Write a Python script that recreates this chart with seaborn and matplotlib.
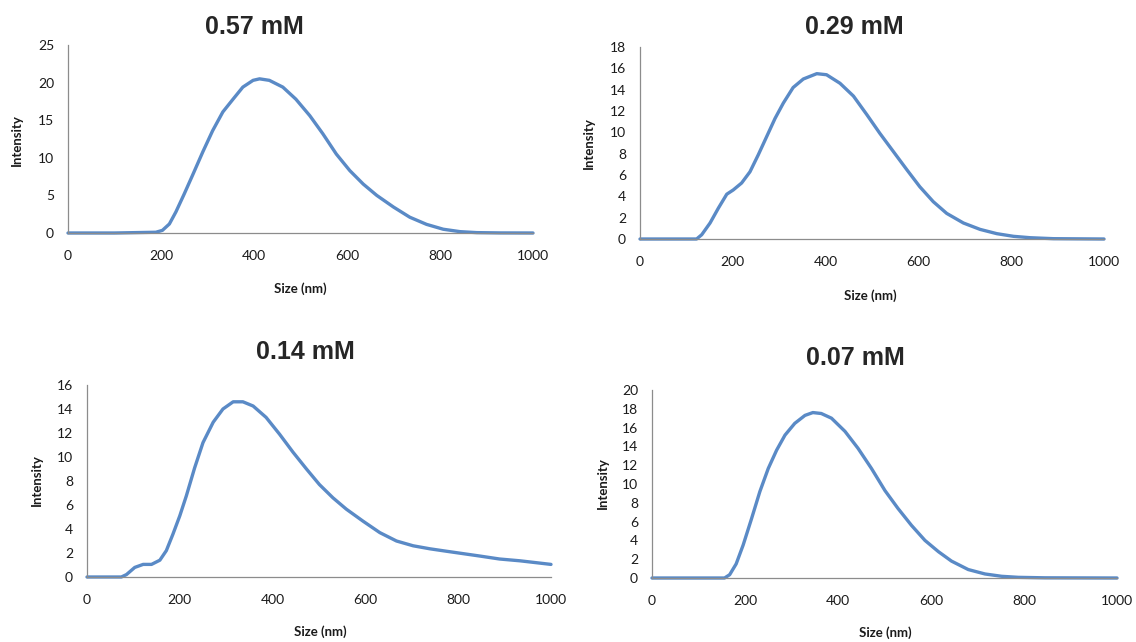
import matplotlib
matplotlib.use("Agg")
from matplotlib import pyplot as plt
import seaborn as sns

# DLS size distributions
size_057 = [0, 100, 189, 203, 218, 232, 250, 268, 290, 311, 333, 355, 376, 398, 412, 433,
            462, 490, 520, 548, 577, 606, 635, 664, 700, 735, 771, 807, 843, 879, 930, 1000]
int_057 = [0, 0, 0.1, 0.35, 1.2, 2.8, 5.2, 7.7, 10.8, 13.6, 16.1, 17.8, 19.4, 20.3, 20.5, 20.3,
           19.4, 17.8, 15.6, 13.2, 10.5, 8.3, 6.5, 5.0, 3.45, 2.1, 1.15, 0.5, 0.18, 0.05, 0.01, 0]

size_029 = [0, 100, 122, 133, 151, 169, 187, 201, 219, 237, 255, 273, 291, 309, 330, 352,
            381, 402, 431, 460, 489, 517, 546, 575, 603, 632, 661, 697, 733, 769, 805, 841,
            891, 1000]
int_029 = [0, 0, 0, 0.4, 1.5, 2.9, 4.2, 4.6, 5.25, 6.3, 7.9, 9.6, 11.3, 12.75, 14.2, 15.0,
           15.5, 15.4, 14.6, 13.4, 11.65, 9.9, 8.2, 6.5, 4.9, 3.5, 2.4, 1.5, 0.9, 0.5, 0.25, 0.12,
           0.03, 0]

size_014 = [0, 50, 74, 85, 103, 121, 139, 157, 171, 185, 200, 214, 232, 250, 272, 293, 315,
            336, 358, 386, 415, 444, 473, 501, 530, 559, 595, 631, 667, 703, 739, 774, 810,
            846, 889, 933, 1000]
int_014 = [0, 0, 0, 0.2, 0.8, 1.05, 1.05, 1.4, 2.2, 3.55, 5.1, 6.75, 9.1, 11.2, 12.9, 14.0, 14.6,
           14.6, 14.25, 13.3, 11.9, 10.4, 9.0, 7.7, 6.6, 5.65, 4.65, 3.7, 3.0, 2.6, 2.35, 2.15, 1.95,
           1.75, 1.5, 1.35, 1.05]

size_007 = [0, 100, 156, 167, 181, 196, 214, 232, 250, 268, 286, 307, 329, 346, 364, 386,
            415, 443, 472, 501, 529, 558, 587, 616, 644, 680, 716, 752, 788, 845, 1000]
int_007 = [0, 0, 0, 0.35, 1.5, 3.5, 6.3, 9.2, 11.65, 13.6, 15.2, 16.45, 17.3, 17.6, 17.5, 17.0,
           15.6, 13.8, 11.65, 9.3, 7.4, 5.6, 4.0, 2.8, 1.8, 0.9, 0.43, 0.18, 0.07, 0.02, 0]

titles = ["0.57 mM", "0.29 mM", "0.14 mM", "0.07 mM"]
y_max = [25, 18, 16, 20]
y_step = [5, 2, 2, 2]

sns.set_style("white")
plt.rcParams["font.family"] = ["Lato", "DejaVu Sans"]

W, H = 1136, 642
fig = plt.figure(figsize=(W / 100, H / 100), dpi=100)

# axes boxes in pixels: left, top, right, bottom
boxes = [(68, 45, 533, 233), (640, 47, 1104, 239), (87, 385, 551, 577), (652, 390, 1117, 578)]
title_pos = [(254, 27), (854, 27), (305, 352), (855, 358)]
ylab_pos = [(17, 140), (589, 143), (37, 480), (603, 483)]
xlab_pos = [(300, 289), (870, 296), (320, 632), (885, 633)]

series = [(size_057, int_057), (size_029, int_029), (size_014, int_014), (size_007, int_007)]
line_color = "#5A8AC6"
axis_color = "#8c8c8c"

for i, (xs, ys) in enumerate(series):
    l, t, r, b = boxes[i]
    ax = fig.add_axes([l / W, 1 - b / H, (r - l) / W, (b - t) / H])
    sns.lineplot(x=xs, y=ys, ax=ax, color=line_color, linewidth=2.4)
    for ln in ax.lines:
        ln.set_clip_on(False)
        ln.set_solid_capstyle("round")
        ln.set_solid_joinstyle("round")
    ax.set_xlim(0, 1000)
    ax.set_ylim(0, y_max[i])
    ax.set_xticks(range(0, 1001, 200))
    ax.set_yticks(range(0, y_max[i] + 1, y_step[i]))
    ax.set_xlabel("")
    ax.set_ylabel("")
    sns.despine(ax=ax)
    for s in ["left", "bottom"]:
        ax.spines[s].set_color(axis_color)
        ax.spines[s].set_linewidth(0.9)
    ax.tick_params(axis="both", which="major", length=4, width=0.9, color=axis_color,
                   labelsize=10, labelcolor="#1a1a1a", direction="out")
    ax.tick_params(axis="x", pad=8)
    ax.tick_params(axis="y", pad=6)
    ax.set_zorder(1)

    fig.text(title_pos[i][0] / W, 1 - title_pos[i][1] / H, titles[i],
             family=["Liberation Sans", "DejaVu Sans"], fontsize=18, fontweight="bold",
             ha="center", va="center")
    fig.text(ylab_pos[i][0] / W, 1 - ylab_pos[i][1] / H, "Intensity", fontsize=9.5,
             fontweight="bold", rotation=90, ha="center", va="center", color="#1a1a1a")
    fig.text(xlab_pos[i][0] / W, 1 - xlab_pos[i][1] / H, "Size (nm)", fontsize=9.5,
             fontweight="bold", ha="center", va="center", color="#1a1a1a")

fig.savefig("out.png", dpi=100, facecolor="white")
